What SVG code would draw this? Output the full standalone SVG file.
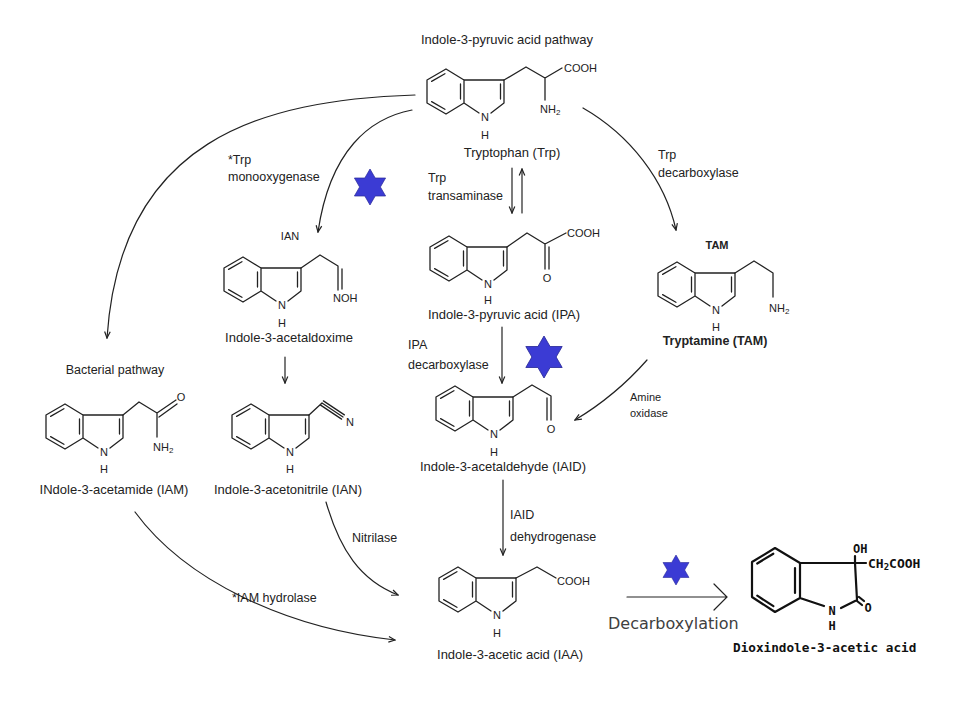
<svg xmlns="http://www.w3.org/2000/svg" width="969" height="715" viewBox="0 0 969 715">
<style>
.bd{fill:none;stroke:#222;stroke-width:1.3;stroke-linecap:round;stroke-linejoin:round}
.bb{fill:none;stroke:#111;stroke-width:2.2;stroke-linecap:round;stroke-linejoin:round}
.cn{fill:none;stroke:#222;stroke-width:1.2;stroke-linecap:round}
text{font-family:"Liberation Sans",Arial,sans-serif;fill:#222}
.at{font-size:11px}
.lb{font-size:13px}
.ez{font-size:12.5px}
.sm{font-size:11px}
.bl{font-weight:bold}
.mo{font-family:"DejaVu Sans Mono","Liberation Mono",monospace;font-weight:bold;fill:#111}
.dc{font-family:"DejaVu Sans",sans-serif;font-size:16px;fill:#404040}
.star{fill:#3b3bd4;stroke:#2a2a99;stroke-width:0.8}
</style>
<defs>
<path id="indole" class="bd" d="M0,0 L-18,-11 L-37,0 L-37,23 L-18,34 L0,23 Z M0,0 L40,0 L40,23 L27,33 M0,23 L15,33 M-19.1,-6.3 L-32.4,1.4 M-32.4,21.6 L-19.1,29.3 M-3.5,4 L-3.5,19 M36.5,4 L36.5,19"/>
<polygon id="hex" points="0,-20 5.774,-10 17.32,-10 11.547,0 17.32,10 5.774,10 0,20 -5.774,10 -17.32,10 -11.547,0 -17.32,-10 -5.774,-10"/>
<marker id="ah" viewBox="0 0 10 10" refX="9" refY="5" markerWidth="8" markerHeight="8" markerUnits="userSpaceOnUse" orient="auto">
<path d="M1,1.5 L9,5 L1,8.5" fill="none" stroke="#222" stroke-width="1.5"/>
</marker>
</defs>
<rect width="969" height="715" fill="#fff"/>

<text x="507" y="44" class="lb" text-anchor="middle">Indole-3-pyruvic acid pathway</text>

<g id="trp">
<use href="#indole" x="464" y="80"/>
<path class="bd" d="M504,80 L526,67 L545,78 L562,68 M545,78 L545,100"/>
<text x="485" y="121" class="at" text-anchor="middle">N</text>
<text x="485" y="139" class="at" text-anchor="middle">H</text>
<text x="564" y="72" class="at">COOH</text>
<text x="540" y="113" class="at">NH<tspan font-size="8" dy="2">2</tspan></text>
<text x="512" y="157" class="lb" text-anchor="middle">Tryptophan (Trp)</text>
</g>

<g id="oxime">
<use href="#indole" x="261" y="268"/>
<path class="bd" d="M301,268 L320,255 L338,266 L338,290 M342,269 L342,289"/>
<text x="282" y="309" class="at" text-anchor="middle">N</text>
<text x="282" y="327" class="at" text-anchor="middle">H</text>
<text x="333" y="302" class="at">NOH</text>
<text x="290" y="240" class="sm" text-anchor="middle">IAN</text>
<text x="289" y="342" class="lb" text-anchor="middle">Indole-3-acetaldoxime</text>
</g>

<g id="ipa">
<use href="#indole" x="467" y="247"/>
<path class="bd" d="M507,247 L527,233 L545,244 L566,233 M545,244 L545,269 M549,247 L549,269"/>
<text x="488" y="288" class="at" text-anchor="middle">N</text>
<text x="488" y="304" class="at" text-anchor="middle">H</text>
<text x="567" y="237" class="at">COOH</text>
<text x="547" y="282" class="at" text-anchor="middle">O</text>
<text x="504" y="319" class="lb" text-anchor="middle">Indole-3-pyruvic acid (IPA)</text>
</g>

<g id="tam">
<use href="#indole" x="695" y="273"/>
<path class="bd" d="M735,273 L754,261 L773,273 L773,297"/>
<text x="716" y="314" class="at" text-anchor="middle">N</text>
<text x="716" y="331" class="at" text-anchor="middle">H</text>
<text x="769" y="312" class="at">NH<tspan font-size="8" dy="2">2</tspan></text>
<text x="717" y="249" class="sm bl" text-anchor="middle">TAM</text>
<text x="715" y="345" class="ez bl" text-anchor="middle">Tryptamine (TAM)</text>
</g>

<g id="iam">
<use href="#indole" x="83" y="415"/>
<path class="bd" d="M123,415 L139,402 L157,413 L176,400 M159,417 L177,404 M157,413 L157,437"/>
<text x="104" y="456" class="at" text-anchor="middle">N</text>
<text x="104" y="473" class="at" text-anchor="middle">H</text>
<text x="181" y="401" class="at" text-anchor="middle">O</text>
<text x="153" y="451" class="at">NH<tspan font-size="8" dy="2">2</tspan></text>
<text x="115" y="374" class="ez" text-anchor="middle">Bacterial pathway</text>
<text x="114" y="494" class="lb" text-anchor="middle">INdole-3-acetamide (IAM)</text>
</g>

<g id="ian">
<use href="#indole" x="269" y="415"/>
<path class="bd" d="M309,415 L322,403 M322,403 L343,417 M320.6,405.1 L341.6,419.1 M323.4,400.9 L344.4,414.9"/>
<text x="290" y="456" class="at" text-anchor="middle">N</text>
<text x="290" y="473" class="at" text-anchor="middle">H</text>
<text x="350" y="426" class="at" text-anchor="middle">N</text>
<text x="288" y="494" class="lb" text-anchor="middle">Indole-3-acetonitrile (IAN)</text>
</g>

<g id="iald">
<use href="#indole" x="473" y="397"/>
<path class="bd" d="M513,397 L532,385 L551,396 L551,420 M547,398 L547,420"/>
<text x="494" y="438" class="at" text-anchor="middle">N</text>
<text x="494" y="456" class="at" text-anchor="middle">H</text>
<text x="551" y="433" class="at" text-anchor="middle">O</text>
<text x="503" y="471" class="lb" text-anchor="middle">Indole-3-acetaldehyde (IAID)</text>
</g>

<g id="iaa">
<use href="#indole" x="476" y="578"/>
<path class="bd" d="M516,578 L537,567 L556,578"/>
<text x="497" y="619" class="at" text-anchor="middle">N</text>
<text x="497" y="637" class="at" text-anchor="middle">H</text>
<text x="557" y="585" class="at">COOH</text>
<text x="510" y="659" class="lb" text-anchor="middle">Indole-3-acetic acid (IAA)</text>
</g>

<g id="dioxindole">
<path class="bb" d="M800,563 L775,548 L752,562 L752,597 L775,612 L800,598 Z M773.3,553.7 L757.2,563.5 M757.3,595.7 L773.4,606.2 M795,568 L795,593 M800,563 L855,563 L857,600 L841,608 M800,598 L824,606 M855,563 L855,556 M855,563 L866,563 M857,601 L862,605 M859,597 L864,601"/>
<text x="853" y="553" class="mo" font-size="12">OH</text>
<text x="868" y="568" class="mo" font-size="13">CH<tspan font-size="9" dy="2">2</tspan><tspan dy="-2">COOH</tspan></text>
<text x="832" y="615" class="mo" font-size="12" text-anchor="middle">N</text>
<text x="832" y="630" class="mo" font-size="12" text-anchor="middle">H</text>
<text x="868" y="612" class="mo" font-size="12" text-anchor="middle">O</text>
<text x="733" y="652" class="mo" font-size="12.7">Dioxindole-3-acetic acid</text>
</g>

<g id="stars">
<use href="#hex" class="star" transform="translate(370,187) scale(0.9)"/>
<use href="#hex" class="star" transform="translate(544,357) scale(1.05)"/>
<use href="#hex" class="star" transform="translate(676,570) scale(0.75)"/>
</g>

<g id="connectors">
<path class="cn" marker-end="url(#ah)" d="M415,95 C260,100 120,140 107,338"/>
<path class="cn" marker-end="url(#ah)" d="M412,110 C370,118 330,150 318,232"/>
<path class="cn" marker-end="url(#ah)" d="M583,108 C630,135 665,180 676,230"/>
<path class="cn" marker-end="url(#ah)" d="M512,168 L512,213"/>
<path class="cn" marker-end="url(#ah)" d="M522,213 L522,169"/>
<path class="cn" marker-end="url(#ah)" d="M285,357 L285,383"/>
<path class="cn" marker-end="url(#ah)" d="M502,327 L502,383"/>
<path class="cn" marker-end="url(#ah)" d="M647,360 C625,385 600,405 575,420"/>
<path class="cn" marker-end="url(#ah)" d="M503,480 L503,555"/>
<path class="cn" marker-end="url(#ah)" d="M326,502 C340,550 360,580 398,595"/>
<path class="cn" marker-end="url(#ah)" d="M135,512 C185,580 285,628 395,640"/>
<path class="cn" d="M627,597 L727,597 M714,584 L727,597 L714,610"/>
<text x="428" y="182" class="ez">Trp</text>
<text x="428" y="200" class="ez">transaminase</text>
<text x="228" y="164" class="ez">*Trp</text>
<text x="228" y="181" class="ez">monooxygenase</text>
<text x="658" y="159" class="ez">Trp</text>
<text x="658" y="177" class="ez">decarboxylase</text>
<text x="408" y="349" class="ez">IPA</text>
<text x="408" y="369" class="ez">decarboxylase</text>
<text x="630" y="401" class="sm">Amine</text>
<text x="630" y="417" class="sm">oxidase</text>
<text x="510" y="519" class="ez">IAID</text>
<text x="510" y="541" class="ez">dehydrogenase</text>
<text x="352" y="542" class="ez">Nitrilase</text>
<text x="232" y="602" class="ez">*IAM hydrolase</text>
<text x="608" y="629" class="dc">Decarboxylation</text>
</g>
</svg>
